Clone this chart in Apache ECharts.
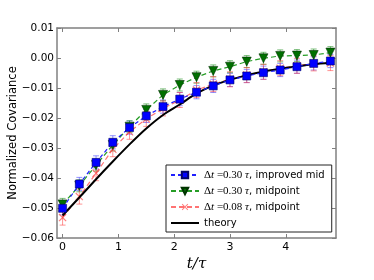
<!DOCTYPE html>
<html><head><meta charset="utf-8">
<script src="https://cdn.jsdelivr.net/npm/echarts@6/dist/echarts.min.js"></script>
<style>html,body{margin:0;padding:0;background:#fff}#c{width:374px;height:280px}</style>
</head><body><div id="c"></div>
<script>
var tVals = [0,0.3,0.6,0.9,1.2,1.5,1.8,2.1,2.4,2.7,3.0,3.3,3.6,3.9,4.2,4.5,4.8];
var improvedMid = [-0.0501,-0.0420,-0.0348,-0.0281,-0.0232,-0.0193,-0.0162,-0.0137,-0.0114,-0.0093,-0.0073,-0.0060,-0.0049,-0.0040,-0.0029,-0.0018,-0.0010];
var improvedErr = [0.0022,0.0022,0.0022,0.0022,0.0022,0.0022,0.0022,0.0022,0.0022,0.0022,0.0022,0.0022,0.0022,0.0022,0.0022,0.0022,0.0022];
var midpoint30 = [-0.0488,-0.0426,-0.0357,-0.0290,-0.0229,-0.0173,-0.0123,-0.0090,-0.0064,-0.0043,-0.0029,-0.0012,-0.0001,0.0007,0.0008,0.0010,0.0018];
var midpoint30Err = [0.0020,0.0020,0.0020,0.0020,0.0020,0.0020,0.0020,0.0020,0.0020,0.0020,0.0020,0.0020,0.0020,0.0020,0.0020,0.0020,0.0020];
var midpoint08 = [-0.0532,-0.0462,-0.0384,-0.0304,-0.0246,-0.0203,-0.0168,-0.0140,-0.0107,-0.0087,-0.0071,-0.0057,-0.0046,-0.0034,-0.0026,-0.0018,-0.0017];
var midpoint08Err = [0.0025,0.0025,0.0025,0.0025,0.0025,0.0025,0.0025,0.0025,0.0025,0.0025,0.0025,0.0025,0.0025,0.0025,0.0025,0.0025,0.0025];
var theory = [-0.0525,-0.0465,-0.0404,-0.0345,-0.0288,-0.0235,-0.0190,-0.0155,-0.0118,-0.0092,-0.0073,-0.0058,-0.0045,-0.0036,-0.0028,-0.0021,-0.0016];
var xTicks = [0,1,2,3,4];

var names = ['improved', 'mid30', 'mid08', 'theory'];
var legendText = {
  improved: '{g|Δ}{i|t}{g| =0.30 }{i|τ}{s|, improved mid}',
  mid30: '{g|Δ}{i|t}{g| =0.30 }{i|τ}{s|, midpoint}',
  mid08: '{g|Δ}{i|t}{g| =0.08 }{i|τ}{s|, midpoint}',
  theory: '{s|theory}'
};

function pairs(ys){ return tVals.map(function(t,i){ return [t, ys[i]]; }); }
function errData(ys, es){ return tVals.map(function(t,i){ return [t, ys[i]-es[i], ys[i]+es[i]]; }); }
function errSeries(ys, es, color){
  return {
    type:'custom', silent:true, z:1, legendHoverLink:false,
    data: errData(ys, es),
    renderItem: function(params, api){
      var x = api.value(0);
      var lo = api.coord([x, api.value(1)]);
      var hi = api.coord([x, api.value(2)]);
      var w = 3;
      var st = {stroke:color, lineWidth:1};
      return {type:'group', children:[
        {type:'line', shape:{x1:lo[0],y1:lo[1],x2:hi[0],y2:hi[1]}, style:st},
        {type:'line', shape:{x1:lo[0]-w,y1:lo[1],x2:lo[0]+w,y2:lo[1]}, style:st},
        {type:'line', shape:{x1:hi[0]-w,y1:hi[1],x2:hi[0]+w,y2:hi[1]}, style:st}
      ]};
    }
  };
}

var axisCol = '#808080';
var xBase = {
  type:'value', min:-0.1, max:4.9,
  axisLine:{show:true, onZero:false, lineStyle:{color:axisCol, width:1.5}},
  axisTick:{show:true, inside:true, length:4, customValues:xTicks, lineStyle:{color:axisCol}},
  splitLine:{show:false}
};
var yBase = {
  type:'value', min:-0.06, max:0.01, interval:0.01,
  axisLine:{show:true, onZero:false, lineStyle:{color:axisCol, width:1.5}},
  axisTick:{show:true, inside:true, length:4, lineStyle:{color:axisCol}},
  splitLine:{show:false}
};

var xPath = 'path://M0,1 L1,0 L5,4 L9,0 L10,1 L6,5 L10,9 L9,10 L5,6 L1,10 L0,9 L4,5Z';

var chart = echarts.init(document.getElementById('c'), null, {renderer:'canvas'});
chart.setOption({
  animation:false,
  grid:{left:57, right:38, top:28, bottom:42, containLabel:false, outerBoundsMode:'none'},
  xAxis:[
    Object.assign({}, xBase, {
      position:'bottom',
      axisLabel:{show:true, customValues:xTicks, color:'#000', fontSize:11, fontFamily:'DejaVu Sans', margin:4},
      name:'t/τ', nameLocation:'middle', nameGap:19, nameMoveOverlap:false,
      nameTextStyle:{fontFamily:'DejaVu Serif', fontStyle:'italic', fontSize:15, color:'#000'}
    }),
    Object.assign({}, xBase, {position:'top', axisLabel:{show:false}})
  ],
  yAxis:[
    Object.assign({}, yBase, {
      position:'left',
      axisLabel:{show:true, color:'#000', fontSize:10.5, fontFamily:'DejaVu Sans', margin:3,
        formatter:function(v){ var s = (Math.abs(v) < 1e-9 ? 0 : v).toFixed(2); return s.replace('-', '\u2212'); }},
      name:'Normalized Covariance', nameLocation:'middle', nameGap:38, nameMoveOverlap:false,
      nameTextStyle:{fontFamily:'DejaVu Sans', fontSize:11.5, color:'#000'}
    }),
    Object.assign({}, yBase, {position:'right', axisLabel:{show:false}})
  ],
  legend:{
    orient:'vertical', left:166, top:165,
    padding:[4,7,3,4], itemGap:4, itemWidth:28, itemHeight:8,
    backgroundColor:'#fff', borderColor:'#222', borderWidth:1, borderRadius:0,
    data:[{name:'improved'},{name:'mid30'},{name:'mid08'},{name:'theory', itemStyle:{color:'rgba(0,0,0,0)', borderWidth:0}}],
    formatter:function(n){ return legendText[n]; },
    textStyle:{
      color:'#000', fontSize:10, lineHeight:12,
      rich:{
        g:{fontFamily:'Liberation Serif', fontSize:11, color:'#000', lineHeight:12},
        i:{fontFamily:'Liberation Serif', fontStyle:'italic', fontSize:11, color:'#000', lineHeight:12},
        s:{fontFamily:'DejaVu Sans', fontSize:10, color:'#000', lineHeight:12}
      }
    }
  },
  series:[
    errSeries(improvedMid, improvedErr, 'rgba(60,60,255,0.55)'),
    errSeries(midpoint30, midpoint30Err, 'rgba(0,128,0,0.5)'),
    errSeries(midpoint08, midpoint08Err, 'rgba(255,60,60,0.55)'),
    {
      name:'mid08', type:'line', z:3, data:pairs(midpoint08),
      symbol:xPath, symbolSize:8,
      lineStyle:{color:'rgba(255,0,0,0.55)', width:1.2, type:[5,3]},
      itemStyle:{color:'rgba(255,70,70,0.7)'}
    },
    {
      name:'theory', type:'line', z:4, data:pairs(theory), smooth:0.3,
      symbol:'none', lineStyle:{color:'#000', width:2}, itemStyle:{color:'#000'}
    },
    {
      name:'mid30', type:'line', z:5, data:pairs(midpoint30),
      symbol:'triangle', symbolRotate:180, symbolSize:9,
      lineStyle:{color:'rgba(0,140,0,0.85)', width:1.2, type:[5,3]},
      itemStyle:{color:'#006f00', borderColor:'#003300', borderWidth:0.6}
    },
    {
      name:'improved', type:'line', z:6, data:pairs(improvedMid),
      symbol:'rect', symbolSize:8,
      lineStyle:{color:'#2020ff', width:1.2, type:[4,3]},
      itemStyle:{color:'#0000ff', borderColor:'#000066', borderWidth:0.6}
    }
  ]
});
</script></body></html>
